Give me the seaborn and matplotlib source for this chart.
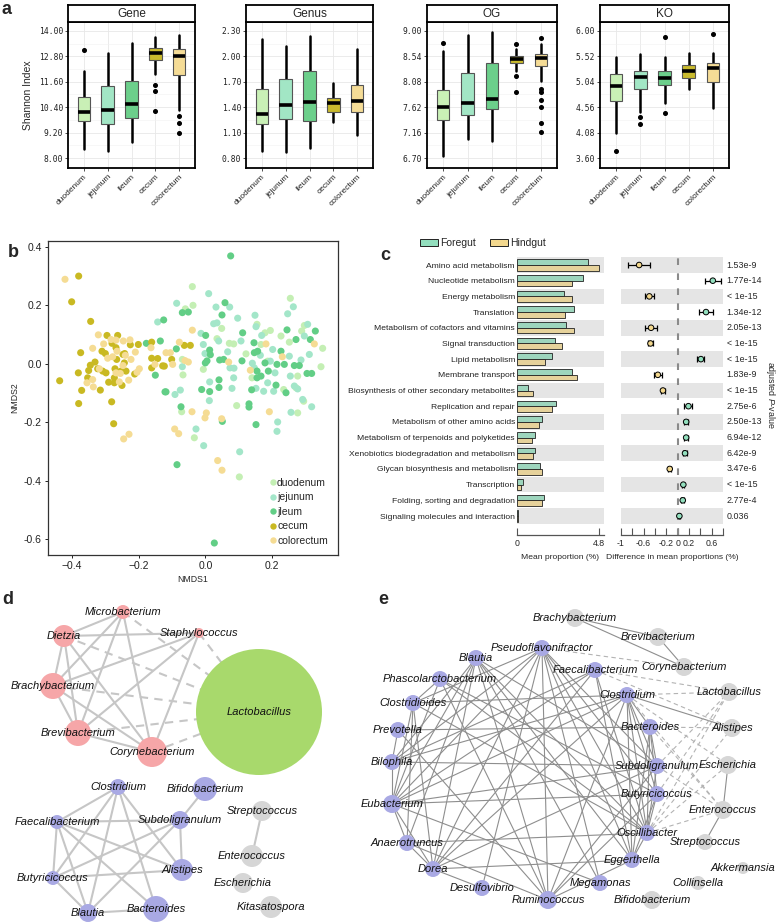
import numpy as np
import pandas as pd
import matplotlib.pyplot as plt
import seaborn as sns
from matplotlib.patches import Patch
from matplotlib.lines import Line2D
from matplotlib.ticker import AutoMinorLocator

sns.set_theme(style="white")
plt.rcParams["font.family"] = ["Liberation Sans", "DejaVu Sans"]
plt.rcParams["mathtext.fontset"] = "custom"
plt.rcParams["mathtext.it"] = "Liberation Sans:italic"
plt.rcParams["mathtext.rm"] = "Liberation Sans"
NARROW = ["Liberation Sans Narrow", "Liberation Sans", "DejaVu Sans"]

# ---------------- panel a: Shannon index boxplots ----------------
sites = ["duodenum", "jejunum", "ileum", "cecum", "colorectum"]
site_colors = ["#c9f0b6", "#a2e6c5", "#6ccf8b", "#c9ba2d", "#f5dc96"]

gene_ticks = [8.00, 9.20, 10.40, 11.60, 12.80, 14.00]
gene_low = [8.41, 8.32, 8.77, 11.96, 10.26]
gene_q1 = [9.74, 9.63, 9.89, 12.64, 11.90]
gene_med = [10.18, 10.27, 10.53, 12.94, 12.82]
gene_q3 = [10.86, 11.38, 11.66, 13.18, 13.13]
gene_high = [12.11, 12.97, 13.45, 13.72, 13.81]
gene_out = [[13.10], [], [], [11.43, 11.16, 10.21], [9.99, 9.67, 9.17]]

genus_ticks = [0.80, 1.10, 1.40, 1.70, 2.00, 2.30]
genus_low = [0.878, 0.870, 0.920, 1.223, 1.074]
genus_q1 = [1.203, 1.258, 1.235, 1.348, 1.348]
genus_med = [1.321, 1.430, 1.462, 1.454, 1.477]
genus_q3 = [1.615, 1.732, 1.826, 1.509, 1.662]
genus_high = [2.210, 2.120, 2.245, 1.685, 2.085]
genus_out = [[], [], [], [], []]

og_ticks = [6.70, 7.16, 7.62, 8.08, 8.54, 9.00]
og_low = [6.735, 7.045, 7.000, 8.270, 8.100]
og_q1 = [7.385, 7.474, 7.582, 8.416, 8.374]
og_med = [7.617, 7.689, 7.772, 8.487, 8.505]
og_q3 = [7.933, 8.243, 8.422, 8.547, 8.577]
og_high = [8.640, 8.920, 8.976, 8.680, 8.770]
og_out = [[8.78], [], [], [8.77, 8.19, 7.90], [8.875, 7.95, 7.90, 7.75, 7.63, 7.34, 7.18]]

ko_ticks = [3.60, 4.08, 4.56, 5.04, 5.52, 6.00]
ko_low = [4.064, 4.467, 4.633, 4.899, 4.540]
ko_q1 = [4.677, 4.899, 4.973, 5.116, 5.029]
ko_med = [4.955, 5.134, 5.103, 5.252, 5.301]
ko_q3 = [5.196, 5.239, 5.239, 5.351, 5.394]
ko_high = [5.505, 5.555, 5.511, 5.579, 5.579]
ko_out = [[3.743], [4.374, 4.237], [5.889, 4.454], [], [5.95]]

# ---------------- panel b: NMDS ----------------
duodenum_x = [-0.039, -0.060, -0.037, -0.071, -0.033, 0.094, 0.035, 0.049, 0.072, 0.085, 0.122, 0.140,
              -0.067, -0.006, -0.069, 0.255, 0.227, 0.297, 0.352, 0.347, 0.289, 0.179, 0.195, 0.167,
              0.252, 0.277, 0.272, 0.295, 0.277, 0.235, 0.187, 0.155, 0.102]
duodenum_y = [0.264, 0.188, 0.200, -0.164, -0.253, -0.143, 0.086, 0.121, 0.070, 0.068, 0.034, -0.048,
              -0.038, -0.019, 0.015, 0.224, 0.095, 0.131, 0.053, -0.010, 0.112, 0.106, 0.114, 0.066,
              0.074, -0.042, -0.082, -0.128, -0.168, -0.088, 0.009, 0.135, -0.387]
jejunum_x = [0.010, -0.086, 0.032, 0.073, 0.097, 0.149, 0.025, 0.035, -0.013, -0.006, 0.040, 0.067,
             0.013, -0.069, 0.012, -0.028, -0.005, 0.103, -0.091, -0.075, 0.080, 0.074, 0.086, 0.141,
             0.085, 0.152, 0.107, -0.001, -0.143, 0.264, 0.247, 0.169, 0.307, 0.297, 0.202, 0.165,
             0.252, 0.195, 0.287, 0.312, 0.209, 0.187, 0.255, 0.267, 0.277, 0.175, 0.205, 0.257,
             0.217, 0.215, 0.319, 0.292, 0.152, 0.147]
jejunum_y = [0.240, 0.207, 0.194, 0.194, 0.156, 0.166, 0.137, 0.140, 0.104, 0.066, 0.078, 0.041,
             -0.062, -0.010, -0.126, -0.223, -0.280, -0.301, -0.105, -0.090, -0.084, -0.014, -0.015, 0.002,
             -0.048, 0.127, 0.078, 0.035, 0.143, 0.195, 0.171, 0.097, 0.135, 0.095, 0.049, 0.029,
             0.026, 0.009, 0.013, 0.032, -0.031, -0.065, -0.042, -0.076, -0.086, -0.094, -0.094, -0.166,
             -0.199, -0.231, -0.147, -0.122, -0.084, -0.014]
jleum_x = [-0.177, -0.125, -0.135, -0.150, -0.121, 0.076, 0.059, 0.050, -0.069, -0.051, 0.001, 0.013,
           0.015, 0.005, 0.000, 0.043, 0.055, 0.110, 0.146, 0.147, -0.087, -0.011, 0.013, 0.041,
           0.041, 0.051, 0.139, 0.131, 0.131, 0.152, -0.118, -0.073, -0.085, 0.112, 0.155, 0.155,
           0.245, 0.272, 0.330, 0.315, 0.227, 0.179, 0.189, 0.215, 0.237, 0.267, 0.282, 0.305,
           0.319, 0.242, 0.212, 0.157, 0.167, 0.027]
jleum_y = [0.070, 0.150, 0.078, -0.039, -0.096, 0.369, 0.209, 0.167, 0.175, 0.177, 0.097, 0.047,
           0.031, 0.010, 0.003, 0.013, 0.015, 0.010, 0.072, 0.038, 0.051, -0.088, -0.095, -0.055,
           -0.081, -0.197, -0.089, -0.137, -0.148, -0.208, -0.096, -0.147, -0.345, 0.106, -0.025, -0.048,
           0.116, 0.083, 0.112, 0.083, 0.043, 0.003, -0.025, -0.002, -0.002, -0.006, -0.006, -0.033,
           -0.033, -0.099, -0.073, 0.043, -0.042, -0.613]
cecum_x = [-0.380, -0.401, -0.344, -0.374, -0.437, -0.381, -0.371, -0.380, -0.281, -0.275, -0.315, -0.295,
           -0.263, -0.280, -0.310, -0.300, -0.242, -0.268, -0.225, -0.201, -0.345, -0.331, -0.350, -0.323,
           -0.308, -0.298, -0.290, -0.273, -0.271, -0.253, -0.238, -0.250, -0.212, -0.266, -0.243, -0.273,
           -0.161, -0.161, -0.143, -0.128, -0.161, -0.247, -0.353, -0.063, -0.045, -0.101, -0.123]
cecum_y = [0.300, 0.212, 0.145, 0.038, -0.058, -0.031, -0.091, -0.136, -0.130, -0.205, -0.090, 0.097,
           0.097, 0.070, 0.043, 0.035, 0.035, 0.055, 0.065, 0.066, -0.005, 0.006, -0.023, -0.017,
           -0.025, -0.031, -0.063, -0.048, -0.017, -0.025, -0.025, -0.074, -0.035, 0.015, 0.003, -0.065,
           -0.014, 0.019, 0.018, -0.007, 0.074, 0.032, -0.048, 0.063, 0.063, 0.015, -0.008]
colorectum_x = [-0.421, -0.321, -0.305, -0.338, -0.283, -0.268, -0.246, -0.226, -0.293, -0.278, -0.265, -0.240,
                -0.223, -0.210, -0.355, -0.336, -0.338, -0.318, -0.268, -0.255, -0.247, -0.230, -0.258, -0.198,
                -0.205, -0.245, -0.229, -0.163, -0.151, -0.118, -0.039, -0.078, -0.061, -0.051, -0.105, -0.098,
                0.070, 0.135, -0.040, 0.003, -0.001, 0.049, -0.092, -0.080, 0.037, 0.050, 0.182, 0.231,
                0.327, 0.192]
colorectum_y = [0.289, 0.099, 0.068, 0.053, 0.083, 0.081, 0.078, 0.082, 0.019, 0.024, 0.043, 0.029,
                0.015, 0.040, -0.065, -0.079, -0.054, -0.017, -0.031, -0.033, -0.006, -0.056, -0.062, -0.017,
                -0.029, -0.257, -0.241, 0.055, -0.002, 0.038, 0.115, 0.074, 0.011, 0.006, 0.038, -0.002,
                0.006, -0.022, -0.164, -0.168, -0.185, -0.188, -0.223, -0.239, -0.331, -0.364, 0.068, 0.024,
                0.068, -0.164]
nmds_labels = ["duodenum", "jejunum", "jleum", "cecum", "colorectum"]
nmds_colors = ["#c4efb4", "#a3e6c9", "#62ce86", "#c9b922", "#f5dc94"]

# ---------------- panel c: KEGG pathways ----------------
pathways = ["Amino acid metabolism", "Nucleotide metabolism", "Energy metabolism", "Translation",
            "Metabolism of cofactors and vitamins", "Signal transduction", "Lipid metabolism",
            "Membrane transport", "Biosynthesis of other secondary metabolites", "Replication and repair",
            "Metabolism of other amino acids", "Metabolism of terpenoids and polyketides",
            "Xenobiotics biodegradation and metabolism", "Glycan biosynthesis and metabolism",
            "Transcription", "Folding, sorting and degradation", "Signaling molecules and interaction"]
foregut_mean = [4.14, 3.86, 2.73, 3.32, 2.85, 2.20, 2.07, 3.24, 0.64, 2.30, 1.44, 1.03, 1.07, 1.33, 0.37, 1.56, 0.06]
hindgut_mean = [4.82, 3.22, 3.24, 2.83, 3.34, 2.65, 1.62, 3.53, 0.92, 2.07, 1.29, 0.88, 0.92, 1.44, 0.25, 1.48, 0.05]
diff_mean = [-0.68, 0.62, -0.50, 0.50, -0.47, -0.48, 0.41, -0.35, -0.26, 0.19, 0.15, 0.15, 0.13, -0.14, 0.10, 0.09, 0.03]
diff_err = [0.20, 0.14, 0.08, 0.12, 0.11, 0.04, 0.06, 0.07, 0.03, 0.07, 0.03, 0.03, 0.03, 0.03, 0.02, 0.03, 0.01]
p_labels = ["1.53e-9", "1.77e-14", "< 1e-15", "1.34e-12", "2.05e-13", "< 1e-15", "< 1e-15", "1.83e-9",
            "< 1e-15", "2.75e-6", "2.50e-13", "6.94e-12", "6.42e-9", "3.47e-6", "< 1e-15", "2.77e-4", "0.036"]
gut_colors = {"Foregut": "#93dfbe", "Hindgut": "#f3d88e"}

# ---------------- panel d: network 1 ----------------
d_nodes = ["Microbacterium", "Dietzia", "Staphylococcus", "Brachybacterium", "Brevibacterium",
           "Corynebacterium", "Lactobacillus", "Clostridium", "Bifidobacterium", "Faecalibacterium",
           "Subdoligranulum", "Streptococcus", "Enterococcus", "Alistipes", "Butyricicoccus",
           "Escherichia", "Blautia", "Bacteroides", "Kitasatospora"]
d_x = [123, 64, 199, 53, 78, 152, 259, 118, 205, 57, 180, 262, 252, 182, 53, 243, 88, 156, 271]
d_y = [37, 61, 58, 111, 158, 177, 137, 212, 214, 247, 245, 236, 281, 295, 303, 308, 338, 334, 332]
d_r = [7, 11, 5, 13, 13, 15, 63, 8, 12, 7, 9, 10, 11, 11, 7, 10, 9, 13, 11]
d_group = ["r", "r", "r", "r", "r", "r", "g", "p", "p", "p", "p", "k", "k", "p", "p", "k", "p", "p", "k"]
d_solid = [("Microbacterium", "Dietzia"), ("Microbacterium", "Brachybacterium"),
           ("Microbacterium", "Brevibacterium"), ("Microbacterium", "Corynebacterium"),
           ("Dietzia", "Staphylococcus"), ("Dietzia", "Brachybacterium"), ("Dietzia", "Brevibacterium"),
           ("Dietzia", "Corynebacterium"), ("Brachybacterium", "Brevibacterium"),
           ("Brachybacterium", "Corynebacterium"), ("Brachybacterium", "Staphylococcus"),
           ("Brevibacterium", "Staphylococcus"), ("Brevibacterium", "Corynebacterium"),
           ("Corynebacterium", "Staphylococcus"),
           ("Clostridium", "Faecalibacterium"), ("Clostridium", "Butyricicoccus"), ("Clostridium", "Blautia"),
           ("Clostridium", "Bacteroides"), ("Clostridium", "Alistipes"),
           ("Faecalibacterium", "Subdoligranulum"), ("Faecalibacterium", "Butyricicoccus"),
           ("Faecalibacterium", "Blautia"), ("Faecalibacterium", "Alistipes"), ("Faecalibacterium", "Bacteroides"),
           ("Butyricicoccus", "Subdoligranulum"), ("Butyricicoccus", "Alistipes"), ("Butyricicoccus", "Blautia"),
           ("Blautia", "Bacteroides"), ("Blautia", "Subdoligranulum"), ("Subdoligranulum", "Alistipes"),
           ("Subdoligranulum", "Bifidobacterium"), ("Streptococcus", "Enterococcus")]
d_dashed = [("Microbacterium", "Lactobacillus"), ("Dietzia", "Lactobacillus"), ("Brachybacterium", "Lactobacillus"),
            ("Brevibacterium", "Lactobacillus"), ("Corynebacterium", "Lactobacillus"),
            ("Staphylococcus", "Lactobacillus")]

# ---------------- panel e: network 2 ----------------
e_nodes = ["Brachybacterium", "Brevibacterium", "Corynebacterium", "Lactobacillus", "Alistipes", "Escherichia",
           "Enterococcus", "Streptococcus", "Akkermansia", "Collinsella", "Bifidobacterium",
           "Pseudoflavonifractor", "Blautia", "Faecalibacterium", "Phascolarctobacterium", "Clostridium",
           "Clostridioides", "Bacteroides", "Prevotella", "Bilophila", "Subdoligranulum", "Eubacterium",
           "Butyricicoccus", "Oscillibacter", "Anaerotruncus", "Eggerthella", "Dorea", "Megamonas",
           "Desulfovibrio", "Ruminococcus"]
e_x = [195, 278, 304, 349, 352, 348, 343, 325, 363, 318, 272, 162, 96, 215, 60, 247, 33, 270, 18, 12, 277,
       12, 277, 267, 27, 252, 53, 220, 102, 168]
e_y = [43, 62, 92, 117, 153, 190, 235, 267, 293, 308, 325, 73, 83, 95, 104, 120, 128, 152, 155, 187, 191,
       229, 219, 258, 268, 285, 294, 308, 313, 325]
e_r = [9, 9, 9, 9, 9, 9, 9, 8, 6, 7, 9, 8, 8, 8, 8, 8, 8, 8, 8, 8, 8, 9, 8, 8, 8, 8, 8, 8, 8, 9]
e_group = ["k"] * 11 + ["p"] * 19
e_solid = [("Pseudoflavonifractor", "Clostridioides"), ("Pseudoflavonifractor", "Bilophila"),
           ("Pseudoflavonifractor", "Eubacterium"), ("Pseudoflavonifractor", "Dorea"),
           ("Pseudoflavonifractor", "Ruminococcus"), ("Pseudoflavonifractor", "Desulfovibrio"),
           ("Pseudoflavonifractor", "Oscillibacter"), ("Pseudoflavonifractor", "Eggerthella"),
           ("Pseudoflavonifractor", "Butyricicoccus"), ("Pseudoflavonifractor", "Subdoligranulum"),
           ("Pseudoflavonifractor", "Megamonas"),
           ("Blautia", "Eubacterium"), ("Blautia", "Anaerotruncus"), ("Blautia", "Dorea"), ("Blautia", "Bilophila"),
           ("Blautia", "Ruminococcus"), ("Blautia", "Oscillibacter"), ("Blautia", "Eggerthella"),
           ("Blautia", "Subdoligranulum"), ("Blautia", "Megamonas"),
           ("Phascolarctobacterium", "Eubacterium"), ("Phascolarctobacterium", "Ruminococcus"),
           ("Phascolarctobacterium", "Oscillibacter"), ("Phascolarctobacterium", "Butyricicoccus"),
           ("Phascolarctobacterium", "Clostridioides"),
           ("Faecalibacterium", "Eubacterium"), ("Faecalibacterium", "Dorea"), ("Faecalibacterium", "Oscillibacter"),
           ("Faecalibacterium", "Eggerthella"), ("Faecalibacterium", "Bilophila"),
           ("Clostridium", "Clostridioides"), ("Clostridium", "Eubacterium"), ("Clostridium", "Dorea"),
           ("Clostridium", "Ruminococcus"), ("Clostridium", "Bacteroides"), ("Clostridium", "Subdoligranulum"),
           ("Clostridium", "Butyricicoccus"), ("Clostridium", "Oscillibacter"), ("Clostridium", "Eggerthella"),
           ("Clostridium", "Bilophila"), ("Clostridium", "Alistipes"),
           ("Clostridioides", "Eubacterium"), ("Clostridioides", "Anaerotruncus"), ("Clostridioides", "Dorea"),
           ("Clostridioides", "Oscillibacter"),
           ("Prevotella", "Bacteroides"), ("Prevotella", "Bilophila"), ("Prevotella", "Ruminococcus"),
           ("Bilophila", "Eubacterium"), ("Bilophila", "Subdoligranulum"),
           ("Eubacterium", "Anaerotruncus"), ("Eubacterium", "Butyricicoccus"), ("Eubacterium", "Dorea"),
           ("Eubacterium", "Megamonas"), ("Eubacterium", "Subdoligranulum"),
           ("Anaerotruncus", "Dorea"), ("Anaerotruncus", "Ruminococcus"), ("Anaerotruncus", "Oscillibacter"),
           ("Dorea", "Eggerthella"), ("Dorea", "Desulfovibrio"), ("Dorea", "Subdoligranulum"),
           ("Ruminococcus", "Eggerthella"), ("Ruminococcus", "Butyricicoccus"), ("Ruminococcus", "Subdoligranulum"),
           ("Bacteroides", "Subdoligranulum"), ("Bacteroides", "Butyricicoccus"), ("Bacteroides", "Oscillibacter"),
           ("Bacteroides", "Eggerthella"), ("Subdoligranulum", "Oscillibacter"), ("Butyricicoccus", "Oscillibacter"),
           ("Butyricicoccus", "Eggerthella"), ("Oscillibacter", "Eggerthella"),
           ("Brachybacterium", "Brevibacterium"), ("Brachybacterium", "Corynebacterium"),
           ("Brevibacterium", "Corynebacterium"), ("Escherichia", "Enterococcus"), ("Enterococcus", "Streptococcus")]
e_dashed = [("Clostridium", "Lactobacillus"), ("Clostridium", "Enterococcus"), ("Clostridium", "Escherichia"),
            ("Faecalibacterium", "Lactobacillus"), ("Faecalibacterium", "Alistipes"),
            ("Pseudoflavonifractor", "Corynebacterium"), ("Bacteroides", "Alistipes"), ("Bacteroides", "Enterococcus"),
            ("Subdoligranulum", "Lactobacillus"), ("Butyricicoccus", "Lactobacillus"),
            ("Oscillibacter", "Lactobacillus"), ("Oscillibacter", "Alistipes"), ("Oscillibacter", "Escherichia"),
            ("Oscillibacter", "Enterococcus"), ("Subdoligranulum", "Enterococcus")]
node_colors = {"r": "#f6a6a8", "g": "#a8d96c", "p": "#a9a9e4", "k": "#d6d6d6"}

W, H = 777, 922


def rect(x0, y0, x1, y1):
    return [x0 / W, 1 - y1 / H, (x1 - x0) / W, (y1 - y0) / H]


fig = plt.figure(figsize=(7.77, 9.22), dpi=100)

# ---- a ----
panel_a = [("Gene", gene_ticks, gene_low, gene_q1, gene_med, gene_q3, gene_high, gene_out, 68, 195),
           ("Genus", genus_ticks, genus_low, genus_q1, genus_med, genus_q3, genus_high, genus_out, 246, 373),
           ("OG", og_ticks, og_low, og_q1, og_med, og_q3, og_high, og_out, 427, 557),
           ("KO", ko_ticks, ko_low, ko_q1, ko_med, ko_q3, ko_high, ko_out, 600, 729)]
for k, (title, ticks, lo, q1, med, q3, hi, out, x0, x1) in enumerate(panel_a):
    ax = fig.add_axes(rect(x0, 22, x1, 168))
    stats = [dict(whislo=lo[i], q1=q1[i], med=med[i], q3=q3[i], whishi=hi[i], fliers=out[i]) for i in range(5)]
    bp = ax.bxp(stats, positions=range(5), widths=0.52, patch_artist=True, showcaps=False,
                boxprops=dict(edgecolor="#555555", linewidth=0.8),
                medianprops=dict(color="black", linewidth=2.6, solid_capstyle="butt"),
                whiskerprops=dict(color="black", linewidth=1.8),
                flierprops=dict(marker="o", markerfacecolor="black", markeredgecolor="black", markersize=2.6))
    for patch, c in zip(bp["boxes"], site_colors):
        patch.set_facecolor(c)
    for w in bp["whiskers"]:
        w.set_zorder(1)
    span = ticks[-1] - ticks[0]
    ax.set_ylim(ticks[0] - 0.078 * span, ticks[-1] + 0.07 * span)
    ax.set_xlim(-0.66, 4.66)
    ax.set_yticks(ticks)
    ax.set_yticklabels([f"{t:.2f}" for t in ticks], family="DejaVu Sans Mono", fontsize=5.8, color="#222222")
    ax.yaxis.set_minor_locator(AutoMinorLocator(2))
    ax.set_xticks(range(5))
    ax.set_xticklabels(sites, rotation=45, ha="right", rotation_mode="anchor", fontsize=6, color="#222222")
    ax.grid(True, which="major", color="#e8e8e8", linewidth=0.6)
    ax.grid(True, which="minor", axis="y", color="#f2f2f2", linewidth=0.4)
    ax.set_axisbelow(True)
    ax.tick_params(axis="both", which="major", length=2, width=0.6, color="#333333", pad=1.5,
                   left=True, bottom=True)
    ax.tick_params(axis="y", which="minor", length=0)
    for s in ax.spines.values():
        s.set_linewidth(1.3)
        s.set_color("black")
    if k == 0:
        ax.set_ylabel("Shannon Index", fontsize=7.5, labelpad=4)
    sax = fig.add_axes(rect(x0, 5, x1, 22))
    sax.set_xticks([])
    sax.set_yticks([])
    for s in sax.spines.values():
        s.set_linewidth(1.3)
        s.set_color("black")
    sax.text(0.5, 0.45, title, ha="center", va="center", fontsize=8.5, transform=sax.transAxes)

# ---- b ----
axb = fig.add_axes(rect(48, 241, 338, 555))
df_b = pd.DataFrame({
    "NMDS1": duodenum_x + jejunum_x + jleum_x + cecum_x + colorectum_x,
    "NMDS2": duodenum_y + jejunum_y + jleum_y + cecum_y + colorectum_y,
    "site": (["duodenum"] * len(duodenum_x) + ["jejunum"] * len(jejunum_x) + ["jleum"] * len(jleum_x)
             + ["cecum"] * len(cecum_x) + ["colorectum"] * len(colorectum_x)),
})
sns.scatterplot(data=df_b, x="NMDS1", y="NMDS2", hue="site", hue_order=nmds_labels,
                palette=dict(zip(nmds_labels, nmds_colors)), s=26, edgecolor="none", linewidth=0,
                ax=axb, legend=False)
axb.set_xlim(-0.472, 0.398)
axb.set_ylim(-0.654, 0.42)
axb.set_xticks([-0.4, -0.2, 0.0, 0.2])
axb.set_yticks([-0.6, -0.4, -0.2, 0.0, 0.2, 0.4])
axb.set_xticklabels(["\u22120.4", "\u22120.2", "0.0", "0.2"])
axb.set_yticklabels(["-0.6", "-0.4", "-0.2", "0.0", "0.2", "0.4"])
axb.tick_params(labelsize=7.5, length=2.5, width=0.7, bottom=True, left=True, pad=2, colors="#222222")
axb.set_xlabel("NMDS1", fontsize=6.3, labelpad=3)
axb.set_ylabel("NMDS2", fontsize=6.3, labelpad=3)
for s in axb.spines.values():
    s.set_linewidth(0.9)
    s.set_color("#333333")
handles = [Line2D([], [], marker="o", linestyle="", markersize=4.6, markerfacecolor=c, markeredgecolor="none")
           for c in nmds_colors]
axb.legend(handles, nmds_labels, loc="lower right", bbox_to_anchor=(0.965, 0.03), frameon=False,
           fontsize=7.5, handlelength=0.5, handletextpad=0.15, labelspacing=0.42, borderpad=0, borderaxespad=0)

# ---- c ----
axl = fig.add_axes(rect(517, 257, 604, 535))
axr = fig.add_axes(rect(621, 257, 723, 535))
df_c = pd.DataFrame({
    "pathway": pathways * 2,
    "value": foregut_mean + hindgut_mean,
    "group": ["Foregut"] * len(pathways) + ["Hindgut"] * len(pathways),
})
rows = np.arange(len(pathways))
for i in rows[::2]:
    axl.axhspan(i - 0.5, i + 0.5, color="#e5e5e5", zorder=0, linewidth=0)
    axr.axhspan(i - 0.5, i + 0.5, color="#e5e5e5", zorder=0, linewidth=0)
sns.barplot(data=df_c, y="pathway", x="value", hue="group", order=pathways, orient="h",
            palette=gut_colors, edgecolor="#222222", linewidth=0.6, width=0.72, legend=False, ax=axl)
axl.set_xlim(0, 5.09)
axl.set_ylim(17.21, -0.51)
axl.set_ylabel("")
axl.set_yticks(rows)
axl.set_yticklabels(pathways, family=NARROW, fontsize=6.1, color="#222222")
axl.tick_params(axis="y", length=0, pad=1.5)
axl.set_xticks([0, 4.8])
axl.set_xticklabels(["0", "4.8"], family=NARROW, fontsize=6.3)
axl.tick_params(axis="x", direction="in", length=5, width=0.8, color="#555555", pad=3, bottom=True)
axl.set_xlabel("Mean proportion (%)", family=NARROW, fontsize=6.1, labelpad=4)

axr.errorbar(diff_mean, rows, xerr=diff_err, fmt="none", ecolor="black", elinewidth=0.9, capsize=2,
             capthick=0.9, zorder=3)
dir_labels = ["Hindgut" if d < 0 else "Foregut" for d in diff_mean]
sns.scatterplot(x=diff_mean, y=rows, hue=dir_labels, palette=gut_colors, s=16, edgecolor="black",
                linewidth=0.7, legend=False, ax=axr, zorder=4)
axr.axvline(0, color="#8a8a8a", linewidth=1.5, linestyle=(0, (3.2, 4)), zorder=2)
axr.set_xlim(-1.0, 0.8)
axr.set_ylim(17.21, -0.51)
axr.set_yticks([])
axr.set_ylabel("")
tick_vals = [-1, -0.8, -0.6, -0.4, -0.2, 0, 0.2, 0.4, 0.6, 0.8]
tick_txt = ["-1", "", "-0.6", "", "-0.2", "0", "0.2", "", "0.6", ""]
axr.set_xticks(tick_vals)
axr.set_xticklabels(tick_txt, family=NARROW, fontsize=6.3)
axr.tick_params(axis="x", direction="in", length=5, width=0.8, color="#555555", pad=3, bottom=True)
axr.set_xlabel("Difference in mean proportions (%)", family=NARROW, fontsize=6.1, labelpad=4)
for p, lab in zip(rows, p_labels):
    axr.text(0.865, p, lab, ha="left", va="center", family=NARROW, fontsize=6.4, clip_on=False)
for a in (axl, axr):
    for side in ("top", "right", "left"):
        a.spines[side].set_visible(False)
    a.spines["bottom"].set_color("#555555")
    a.spines["bottom"].set_linewidth(0.9)
fig.text(771 / W, 1 - 395 / H, "adjusted $P$-value", rotation=270, ha="center", va="center",
         family=NARROW, fontsize=6.4)
fig.legend([Patch(facecolor=gut_colors["Foregut"], edgecolor="#222222", linewidth=0.7),
            Patch(facecolor=gut_colors["Hindgut"], edgecolor="#222222", linewidth=0.7)],
           ["Foregut", "Hindgut"], loc="center", bbox_to_anchor=(483 / W, 1 - 243 / H), ncol=2,
           frameon=False, prop={"family": NARROW, "size": 7.5}, handlelength=1.7, handleheight=0.6,
           handletextpad=0.2, columnspacing=1.4)


# ---- d & e networks ----
def draw_network(ax, names, xs, ys, radii, groups, solid, dashed, lcol, lw, dcol):
    pos = {n: (x, y) for n, x, y in zip(names, xs, ys)}
    for a, b in solid:
        ax.plot([pos[a][0], pos[b][0]], [pos[a][1], pos[b][1]], color=lcol, linewidth=lw, zorder=1,
                solid_capstyle="round")
    for a, b in dashed:
        ax.plot([pos[a][0], pos[b][0]], [pos[a][1], pos[b][1]], color=dcol, linewidth=lw,
                linestyle=(0, (4, 3)), zorder=1)
    sizes = [(2 * r * 0.72) ** 2 for r in radii]
    ax.scatter(xs, ys, s=sizes, c=[node_colors[g] for g in groups], edgecolors="none", zorder=2)
    for n, x, y in zip(names, xs, ys):
        ax.text(x, y, n, ha="center", va="center", fontsize=8, style="italic", color="#111111", zorder=3)


axd = fig.add_axes(rect(0, 575, 380, 922))
axd.set_xlim(0, 380)
axd.set_ylim(347, 0)
axd.axis("off")
draw_network(axd, d_nodes, d_x, d_y, d_r, d_group, d_solid, d_dashed, "#c6c6c6", 1.5, "#c6c6c6")

axe = fig.add_axes(rect(380, 575, 777, 922))
axe.set_xlim(0, 397)
axe.set_ylim(347, 0)
axe.axis("off")
draw_network(axe, e_nodes, e_x, e_y, e_r, e_group, e_solid, e_dashed, "#8e8e8e", 0.8, "#b3b3b3")

# panel letters
for letter, x, y in [("a", 2, 10), ("b", 8, 252), ("c", 380, 256), ("d", 2, 600), ("e", 378, 600)]:
    fig.text(x / W, 1 - y / H, letter, fontsize=13, fontweight="bold", ha="left", va="center")

fig.savefig("out.png", dpi=100)
